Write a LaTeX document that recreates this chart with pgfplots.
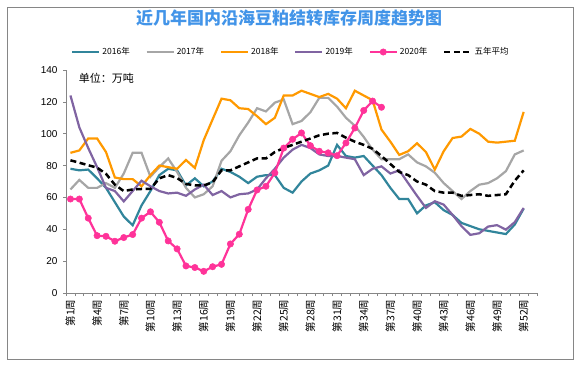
\documentclass[border=0pt]{standalone}
\usepackage{fontspec}
\setmainfont{Noto Sans CJK SC}
\newfontfamily\arial{Liberation Sans}
\usepackage{pgfplots}
\usepackage{pgfplotstable}
\pgfplotsset{compat=1.18}
\definecolor{cA}{RGB}{49,133,155}
\definecolor{cB}{RGB}{166,166,166}
\definecolor{cC}{RGB}{255,153,0}
\definecolor{cD}{RGB}{128,100,162}
\definecolor{cE}{RGB}{255,51,153}
\definecolor{titleblue}{RGB}{66,148,232}
\definecolor{axgray}{RGB}{134,134,134}

\pgfplotstableread{
w a b c d f
1 78 65 88 124 83.3
2 77 71 89.5 104 81.8
3 77.5 66 97 91 80.2
4 72 66 97 79 78.7
5 66 69 88.5 66 74.8
6 57 66 72.5 64 68
7 48 75 71.5 57.5 64
8 42.5 88 71.5 64 65
9 55 88 67 70.5 65.3
10 64 73 74 67 65.3
11 74 79 80 64 72
12 78 84.5 79 62.5 74
13 77 76 78 63 72.2
14 67.5 66 83.5 61 68.5
15 72 60 78.5 65 67.5
16 67 62 96 68 67.5
17 70 67 109 61.5 69.5
18 78 83 122 64 77
19 76 89 121 60 77
20 73 99 116 62 79.5
21 69 107 115.5 62.5 82
22 73 116 111 65 84.5
23 74 114 106 72 84.5
24 74 119.5 110 78 88.5
25 66 121.5 124 85 91
26 63 106 124 90 93
27 70 108 127 93 95
28 75 113.5 125 91 97
29 77 122.5 123 87 99
30 80 122.5 125 86 100
31 93 117 122 86 100.5
32 86 110 116 85 97.5
33 85 105 127 84 95
34 86 98 124 74 93
35 80 90 121 78 90.5
36 74 84 102.6 79.5 86
37 66 84 95 75 81
38 59 84 86.7 77 76
39 59 87 89 69 74
40 50 82 94 61 70
41 55 79.5 88.5 53.4 68
42 57 75.5 77.5 57.6 64
43 52 69 89 55.5 63
44 49 64 97.3 49 63
45 44 59 98.2 42 61
46 42 64 103 36.5 61.5
47 40 68 100 37.5 62
48 39 69 95 41.7 61
49 38 72 94.4 42.6 61.5
50 37 76.5 95 39.8 62
51 43 87 95.6 44.5 70.5
52 53 89.5 113.7 53.4 77
}\mydata

\pgfplotstableread{
w e
1 59
2 59
3 47
4 36
5 35.6
6 32.5
7 34.8
8 36.7
9 47
10 51
11 44.4
12 32.7
13 27.7
14 17
15 16
16 13.6
17 16.5
18 18
19 30.8
20 36.9
21 52.5
22 64.7
23 67
24 75.4
25 91
26 96.5
27 100.5
28 92.5
29 89
30 88
31 86.2
32 94.2
33 103.6
34 114.6
35 120.5
36 116.6
}\mydataB

\begin{document}
\begin{tikzpicture}
\begin{axis}[
  scale only axis, width=471pt, height=223pt,
  xmin=0.5, xmax=53.5, ymin=0, ymax=140,
  axis lines*=left,
  axis line style={color=axgray, line width=0.8pt},
  ytick={0,20,...,140},
  xtick={1,4,...,52},
  xticklabels={第1周,第4周,第7周,第10周,第13周,第16周,第19周,第22周,第25周,第28周,第31周,第34周,第37周,第40周,第43周,第46周,第49周,第52周},
  minor xtick={0.5,1.5,...,53.5},
  tick align=outside,
  major tick length=3pt, minor tick length=3pt,
  major x tick style={draw=none},
  minor x tick style={color=axgray, line width=0.6pt},
  major y tick style={color=axgray, line width=0.6pt},
  yticklabel style={font=\arial\fontsize{10}{10}\selectfont, xshift=-2pt},
  xticklabel style={font=\fontsize{10.5}{10.5}\selectfont, rotate=90, anchor=east},
  /pgf/number format/assume math mode=true,
  legend columns=6,
  legend style={at={(0.0106,1.0807)}, anchor=west, draw=none, fill=none, inner sep=0pt,
    font=\fontsize{8.5}{8.5}\selectfont,
    /tikz/every even column/.append style={column sep=13.8pt},
    /tikz/every odd column/.append style={column sep=0pt}},
  legend image code/.code={\draw[mark repeat=2,mark phase=2,#1] plot coordinates {(0pt,0pt) (13.5pt,0pt) (27pt,0pt)};},
  clip=false,
]
\path (rel axis cs:-0.14013,-0.34081) rectangle (rel axis cs:1.09554,1.31390);
\draw[color=axgray, line width=0.8pt] (rel axis cs:-0.12527,-0.29596) rectangle (rel axis cs:1.07643,1.28251);
\node[font=\fontsize{17}{17}\selectfont\bfseries, text=titleblue] at (rel axis cs:0.47346,1.23318) {近几年国内沿海豆粕结转库存周度趋势图};
\addplot[cA, line width=2.2pt, no markers] table[x=w,y=a]{\mydata};
\addlegendentry{2016年}
\addplot[cB, line width=2.2pt, no markers] table[x=w,y=b]{\mydata};
\addlegendentry{2017年}
\addplot[cC, line width=2.2pt, no markers] table[x=w,y=c]{\mydata};
\addlegendentry{2018年}
\addplot[cD, line width=2.2pt, no markers] table[x=w,y=d]{\mydata};
\addlegendentry{2019年}
\addplot[cE, line width=2.2pt, mark=*, mark size=3.2pt, mark options={fill=cE, draw=cE, line width=0.5pt}] table[x=w,y=e]{\mydataB};
\addlegendentry{2020年}
\addplot[black, line width=2.5pt, dash pattern=on 6pt off 3.5pt, no markers] table[x=w,y=f]{\mydata};
\addlegendentry{五年平均}
\node[anchor=west, font=\fontsize{11}{11}\selectfont] at (rel axis cs:0.02,0.964) {单位：万吨};
\end{axis}
\end{tikzpicture}
\end{document}
